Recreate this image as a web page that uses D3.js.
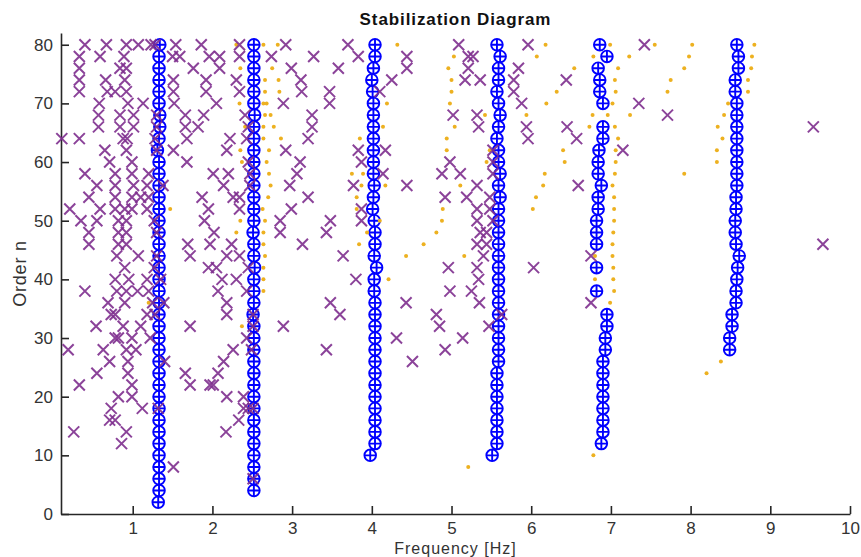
<!DOCTYPE html>
<html>
<head>
<meta charset="utf-8">
<script src="https://cdn.jsdelivr.net/npm/d3@7"></script>
<style>
  html, body { margin: 0; padding: 0; background: #fff; }
  svg { display: block; font-family: "Liberation Sans", Arial, Helvetica, sans-serif; }
</style>
</head>
<body>
<svg id="chart" width="861" height="557"></svg>
<script>
// Model orders analysed (even orders only)
const orderTicks = [0, 10, 20, 30, 40, 50, 60, 70, 80];
const freqTicks = [1, 2, 3, 4, 5, 6, 7, 8, 9, 10];

// Stable poles: [order, frequencies in Hz]
const stablePoles = [
  [80, [1.34, 2.52, 4.04, 5.57, 6.86, 8.58]],
  [78, [1.33, 2.52, 4.04, 5.61, 6.95, 8.60]],
  [76, [1.33, 2.52, 4.02, 5.59, 6.84, 8.60]],
  [74, [1.33, 2.52, 4.00, 5.59, 6.86, 8.56]],
  [72, [1.33, 2.52, 4.01, 5.57, 6.86, 8.56]],
  [70, [1.33, 2.52, 4.02, 5.59, 6.90, 8.58]],
  [68, [1.34, 2.53, 4.02, 5.61, 8.58]],
  [66, [1.34, 2.52, 4.02, 5.59, 6.90, 8.58]],
  [64, [1.33, 2.52, 4.02, 5.57, 6.90, 8.58]],
  [62, [1.31, 2.52, 4.02, 5.59, 6.85, 8.58]],
  [60, [1.33, 2.52, 4.02, 5.59, 6.84, 8.58]],
  [58, [1.33, 2.52, 4.02, 5.61, 6.84, 8.58]],
  [56, [1.33, 2.52, 4.03, 5.59, 6.88, 8.58]],
  [54, [1.33, 2.52, 4.02, 5.61, 6.84, 8.57]],
  [52, [1.33, 2.52, 4.01, 5.59, 6.84, 8.57]],
  [50, [1.33, 2.52, 4.03, 5.59, 6.82, 8.56]],
  [48, [1.33, 2.51, 4.04, 5.59, 6.82, 8.56]],
  [46, [1.33, 2.52, 4.04, 5.59, 6.82, 8.57]],
  [44, [1.33, 2.52, 4.03, 5.59, 8.61]],
  [42, [1.33, 2.53, 4.06, 5.59, 6.82, 8.59]],
  [40, [1.33, 2.52, 4.03, 5.59, 8.58]],
  [38, [1.33, 2.52, 4.03, 5.59, 6.82, 8.57]],
  [36, [1.33, 2.52, 4.04, 5.59, 8.57]],
  [34, [1.33, 2.51, 4.04, 5.59, 6.95, 8.52]],
  [32, [1.33, 2.52, 4.04, 5.59, 6.95, 8.52]],
  [30, [1.33, 2.52, 4.04, 5.59, 6.93, 8.49]],
  [28, [1.33, 2.52, 4.04, 5.59, 6.93, 8.49]],
  [26, [1.33, 2.52, 4.04, 5.59, 6.90]],
  [24, [1.33, 2.52, 4.04, 5.57, 6.90]],
  [22, [1.33, 2.52, 4.04, 5.57, 6.90]],
  [20, [1.33, 2.52, 4.04, 5.57, 6.90]],
  [18, [1.33, 2.52, 4.04, 5.57, 6.90]],
  [16, [1.33, 2.52, 4.04, 5.57, 6.90]],
  [14, [1.33, 2.52, 4.04, 5.57, 6.90]],
  [12, [1.33, 2.52, 4.04, 5.57, 6.88]],
  [10, [1.33, 2.52, 3.98, 5.51]],
  [8,  [1.33, 2.52]],
  [6,  [1.33, 2.52]],
  [4,  [1.33, 2.52]],
  [2,  [1.32]]
];

// Poles stable in frequency only: [order, frequencies in Hz]
const freqStablePoles = [
  [80, [2.30, 2.64, 2.82, 4.32, 6.18, 6.99, 7.55, 8.02, 8.80]],
  [78, [5.03, 6.07, 6.78, 7.23, 7.98, 8.77]],
  [76, [2.35, 2.75, 4.96, 6.54, 7.09, 7.92, 8.76]],
  [74, [2.66, 2.83, 5.00, 7.05, 7.75, 8.72]],
  [72, [2.66, 2.84, 5.00, 6.32, 7.06, 7.71, 8.72]],
  [70, [2.34, 2.64, 2.68, 4.19, 4.98, 6.19, 7.02, 8.47]],
  [68, [2.66, 2.73, 5.42, 5.94, 6.77, 6.96, 7.24, 8.42]],
  [66, [2.41, 2.64, 2.77, 4.14, 5.04, 6.73, 7.05, 8.34]],
  [64, [2.64, 2.86, 3.85, 4.94, 7.09, 8.40]],
  [62, [2.35, 2.71, 4.94, 5.48, 6.40, 7.06, 8.33]],
  [60, [2.37, 2.68, 5.44, 6.42, 7.06, 8.33]],
  [58, [2.71, 3.75, 3.89, 6.17, 7.05, 7.92]],
  [56, [2.73, 3.87, 4.17, 5.11, 6.15, 7.02]],
  [54, [2.70, 3.81, 6.06, 7.04]],
  [52, [1.47, 2.63, 3.81, 4.89, 6.02, 7.04]],
  [50, [2.35, 2.66, 4.10, 4.88, 7.04]],
  [48, [2.30, 2.64, 3.94, 4.81, 7.03]],
  [46, [2.64, 3.84, 4.65, 7.02]],
  [44, [2.66, 4.43, 5.16, 6.80, 7.02]],
  [42, [2.64, 7.03]],
  [40, [2.64, 4.21, 6.80, 7.03]],
  [38, [2.64, 7.04]],
  [36, [1.20, 6.99]],
  [32, [2.37]],
  [26, [8.38]],
  [24, [8.20]],
  [10, [6.78]],
  [8,  [5.21]]
];

// Unstable poles: [order, frequencies in Hz]
const unstablePoles = [
  [80, [0.40, 0.67, 0.92, 1.07, 1.23, 1.28, 1.54, 1.86, 2.34, 2.92, 3.70, 5.09, 5.96, 7.42]],
  [78, [0.33, 0.59, 0.89, 1.50, 1.59, 1.96, 2.09, 2.34, 2.74, 3.27, 3.83, 4.44, 5.21, 5.27]],
  [76, [0.33, 0.84, 0.92, 1.76, 2.09, 2.99, 3.58, 4.44, 5.21, 5.84]],
  [74, [0.33, 0.66, 0.90, 1.51, 1.92, 2.30, 3.11, 4.25, 5.17, 5.36, 5.78, 6.44]],
  [72, [0.33, 0.68, 0.78, 0.92, 1.51, 1.92, 2.34, 3.12, 3.47, 4.10, 5.78]],
  [70, [0.58, 0.94, 1.13, 1.52, 2.05, 2.89, 3.47, 5.88, 7.35]],
  [68, [0.57, 0.84, 1.01, 1.30, 1.66, 1.89, 2.41, 3.25, 5.02, 5.32, 7.71]],
  [66, [0.57, 0.84, 1.01, 1.30, 1.66, 1.82, 2.45, 3.25, 5.34, 5.94, 6.45, 9.54]],
  [64, [0.11, 0.33, 0.88, 0.93, 1.28, 1.68, 2.22, 2.43, 3.20, 5.96, 6.57]],
  [62, [0.65, 0.92, 1.30, 1.51, 2.18, 2.92, 3.83, 4.17, 5.52, 7.15]],
  [60, [0.71, 0.99, 1.68, 2.45, 3.10, 3.87, 4.98, 5.52]],
  [58, [0.40, 0.78, 0.99, 1.20, 2.01, 2.20, 2.47, 3.06, 4.14, 4.88, 5.11, 5.52]],
  [56, [0.55, 0.78, 1.01, 1.18, 1.38, 2.14, 2.47, 2.97, 3.77, 4.44, 5.32, 6.59]],
  [54, [0.45, 0.78, 0.99, 1.10, 1.20, 1.87, 2.26, 2.34, 3.20, 4.92, 5.19, 5.48]],
  [52, [0.21, 0.59, 0.78, 0.90, 0.99, 1.18, 1.95, 2.34, 2.99, 3.87, 5.32, 5.48]],
  [50, [0.35, 0.55, 0.82, 0.92, 1.27, 1.90, 2.85, 3.48, 3.87, 5.32, 5.52]],
  [48, [0.45, 0.82, 0.92, 1.30, 2.02, 2.85, 3.43, 5.36, 5.44]],
  [46, [0.45, 0.82, 0.92, 1.69, 1.97, 2.24, 3.13, 5.32, 5.44, 9.66]],
  [44, [0.80, 1.07, 1.30, 1.72, 2.18, 2.34, 3.64, 5.40, 6.75]],
  [42, [0.90, 1.27, 1.95, 2.05, 2.45, 4.96, 5.32, 6.03]],
  [40, [0.78, 0.95, 1.18, 1.35, 2.12, 2.30, 3.80, 5.34]],
  [38, [0.40, 0.80, 0.92, 1.06, 1.20, 2.07, 2.43, 4.98, 5.25]],
  [36, [0.69, 0.90, 1.25, 1.39, 2.18, 3.48, 4.43, 5.35, 6.75]],
  [34, [0.73, 0.78, 1.18, 1.28, 2.18, 2.51, 3.60, 4.81, 5.63]],
  [32, [0.54, 0.88, 1.10, 1.72, 2.51, 2.89, 4.85, 5.47]],
  [30, [0.78, 0.82, 0.99, 1.22, 2.43, 4.31, 5.14]],
  [28, [0.19, 0.63, 0.92, 1.04, 2.26, 2.49, 3.43, 4.92]],
  [26, [0.71, 0.94, 1.40, 2.14, 4.51]],
  [24, [0.55, 0.94, 1.66, 2.07]],
  [22, [0.33, 0.99, 1.72, 1.97, 2.01]],
  [20, [0.82, 0.99, 2.18, 2.39]],
  [18, [0.73, 1.12, 1.32, 2.39, 2.45, 2.51]],
  [16, [0.71, 0.78, 2.33]],
  [14, [0.26, 0.92, 2.17]],
  [12, [0.86]],
  [8,  [1.51]],
  [6,  [2.51]]
];

// Flatten [order, [f...]] rows into {f, n} points
const flatten = rows => rows.flatMap(([n, fs]) => fs.map(f => ({ f, n })));

const svg = d3.select("#chart");
const margin = { left: 61, right: 11, top: 33, bottom: 43 };
const W = +svg.attr("width"), H = +svg.attr("height");

const x = d3.scaleLinear().domain([0.1, 10]).range([margin.left, W - margin.right]);
const y = d3.scaleLinear().domain([0, 82]).range([H - margin.bottom, margin.top]);

const axisColor = "#262626";
const tickLen = 8;

// Axes (ticks pointing inward)
const xAxis = svg.append("g")
  .attr("transform", `translate(0,${y(0)})`)
  .call(d3.axisBottom(x).tickValues(freqTicks).tickSize(-tickLen).tickPadding(8).tickSizeOuter(0));
const yAxis = svg.append("g")
  .attr("transform", `translate(${x(0.1)},0)`)
  .call(d3.axisLeft(y).tickValues(orderTicks).tickSize(-tickLen).tickPadding(8).tickSizeOuter(0));

[xAxis, yAxis].forEach(g => {
  g.select(".domain").attr("stroke", axisColor).attr("stroke-width", 1.6);
  g.selectAll(".tick line").attr("stroke", axisColor).attr("stroke-width", 1.6);
  g.selectAll(".tick text")
    .attr("fill", "#333")
    .style("font-size", "17px")
    .style("font-family", '"Liberation Sans", Arial, sans-serif');
});
xAxis.selectAll(".tick text").attr("dy", "0.71em");

// Stable poles: circle with a plus
const r = 5.8;
const stable = svg.append("g").attr("stroke", "#0000ff").attr("fill", "none").attr("stroke-width", 1.9);
const stableG = stable.selectAll("g").data(flatten(stablePoles)).join("g")
  .attr("transform", d => `translate(${x(d.f)},${y(d.n)})`);
stableG.append("circle").attr("r", r);
stableG.append("path").attr("d", `M${-r},0H${r}M0,${-r}V${r}`);

// Frequency-stable poles: small dots
svg.append("g").attr("fill", "#EDB120")
  .selectAll("circle").data(flatten(freqStablePoles)).join("circle")
  .attr("cx", d => x(d.f)).attr("cy", d => y(d.n)).attr("r", 2);

// Unstable poles: crosses
const s = 5.5;
svg.append("g").attr("stroke", "#7E2F8E").attr("stroke-width", 2).attr("fill", "none").attr("stroke-opacity", 0.9)
  .selectAll("path").data(flatten(unstablePoles)).join("path")
  .attr("transform", d => `translate(${x(d.f)},${y(d.n)})`)
  .attr("d", `M${-s},${-s}L${s},${s}M${-s},${s}L${s},${-s}`);

// Title and axis labels
svg.append("text")
  .attr("x", (x(0.1) + x(10)) / 2).attr("y", 25)
  .attr("text-anchor", "middle")
  .style("font-size", "17px").style("font-weight", "bold").style("letter-spacing", "0.9px")
  .attr("fill", "#111")
  .text("Stabilization Diagram");

svg.append("text")
  .attr("x", (x(0.1) + x(10)) / 2).attr("y", 553.5)
  .attr("text-anchor", "middle")
  .style("font-size", "16px").style("letter-spacing", "1px")
  .attr("fill", "#333")
  .text("Frequency [Hz]");

svg.append("text")
  .attr("transform", `translate(26,${(y(0) + y(82)) / 2}) rotate(-90)`)
  .attr("text-anchor", "middle")
  .style("font-size", "18px").style("letter-spacing", "0.8px")
  .attr("fill", "#333")
  .text("Order n");
</script>
</body>
</html>
